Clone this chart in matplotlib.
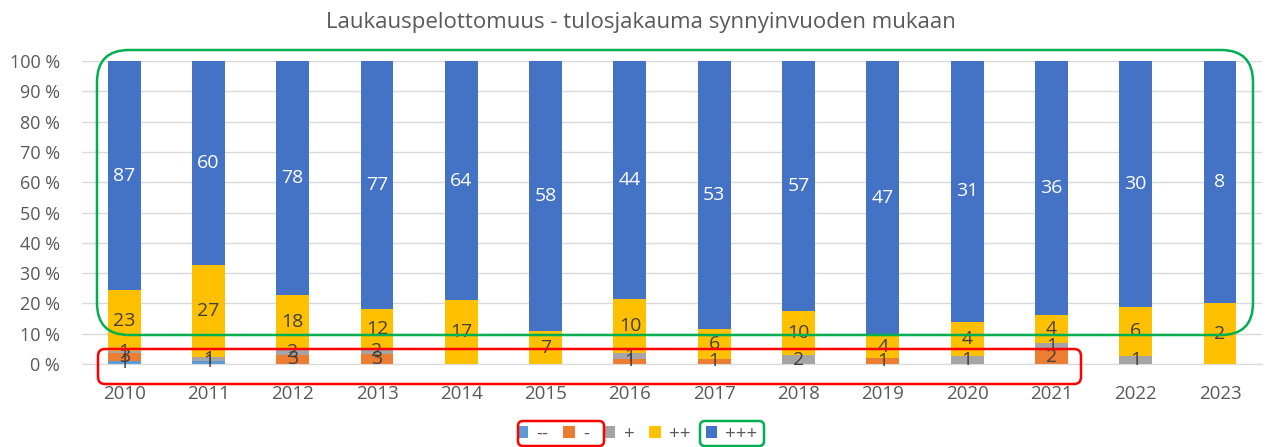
import numpy as np
import matplotlib
matplotlib.use('Agg')
import matplotlib.pyplot as plt
from matplotlib.patches import FancyBboxPatch

# data
years = ['2010', '2011', '2012', '2013', '2014', '2015', '2016',
         '2017', '2018', '2019', '2020', '2021', '2022', '2023']
series_names = ['--', '-', '+', '++', '+++']
vv_minus = [1, 1, 0, 0, 0, 0, 0, 0, 0, 0, 0, 0, 0, 0]
v_minus = [3, 0, 3, 3, 0, 0, 1, 1, 0, 1, 0, 2, 0, 0]
v_plus = [1, 1, 2, 2, 0, 0, 1, 0, 2, 0, 1, 1, 1, 0]
vv_plus = [23, 27, 18, 12, 17, 7, 10, 6, 10, 4, 4, 4, 6, 2]
vvv_plus = [87, 60, 78, 77, 64, 58, 44, 53, 57, 47, 31, 36, 30, 8]
colors = ['#5B9BD5', '#ED7D31', '#A5A5A5', '#FFC000', '#4472C4']
label_colors = ['#404040', '#404040', '#404040', '#404040', 'white']

plt.rcParams['font.family'] = ['Open Sans', 'DejaVu Sans']

fig = plt.figure(figsize=(12.69, 4.47), dpi=100)
ax = fig.add_axes([0.0646, 0.1857, 0.93, 0.6778])

data = np.array([vv_minus, v_minus, v_plus, vv_plus, vvv_plus], dtype=float)
totals = data.sum(axis=0)
pct = data / totals * 100
x = np.arange(len(years))
bottom = np.zeros(len(years))
for i, name in enumerate(series_names):
    ax.bar(x, pct[i], 0.39, bottom=bottom, color=colors[i], label=name, zorder=2)
    for j in range(len(years)):
        if data[i, j] > 0:
            ax.text(x[j], bottom[j] + pct[i, j] / 2, f'{int(data[i, j])}',
                    ha='center', va='center', fontsize=14, color=label_colors[i], zorder=3)
    bottom += pct[i]

ax.set_xlim(-0.5, len(years) - 0.5)
ax.set_ylim(0, 100)
ax.set_yticks(np.arange(0, 101, 10))
ax.set_yticklabels([f'{v} %' for v in range(0, 101, 10)])
ax.set_xticks(x)
ax.set_xticklabels(years)
ax.tick_params(axis='both', length=0, colors='#595959')
ax.tick_params(axis='x', pad=15, labelsize=13.5)
ax.tick_params(axis='y', pad=16, labelsize=13)
ax.grid(axis='y', color='#D9D9D9', linewidth=1, zorder=0)
for s in ['top', 'right', 'left']:
    ax.spines[s].set_visible(False)
ax.spines['bottom'].set_color('#D9D9D9')

fig.text(0.505, 0.95, 'Laukauspelottomuus - tulosjakauma synnyinvuoden mukaan',
         ha='center', va='center', fontsize=16, color='#595959')

fig.legend(loc='center', bbox_to_anchor=(0.502, 0.03), ncol=5, frameon=False,
           fontsize=13.5, handlelength=0.6, handleheight=0.6, columnspacing=0.8,
           handletextpad=0.45, labelcolor='#595959')

# overlay in pixel coordinates for the highlight boxes
ov = fig.add_axes([0, 0, 1, 1], zorder=10)
ov.set_xlim(0, 1269)
ov.set_ylim(447, 0)
ov.axis('off')
ov.patch.set_alpha(0)

def box(x0, y0, x1, y1, r, color):
    ov.add_patch(FancyBboxPatch((x0 + r, y0 + r), x1 - x0 - 2 * r, y1 - y0 - 2 * r,
                                boxstyle=f'round,pad={r}', fill=False,
                                edgecolor=color, linewidth=1.8))

box(97, 50, 1253, 335, 32, '#00B050')
box(98, 349, 1081, 384, 7, '#FF0000')
box(518, 421, 604, 446, 5, '#FF0000')
box(700, 421, 764, 446, 5, '#00B050')

fig.savefig('out.png', dpi=100)
